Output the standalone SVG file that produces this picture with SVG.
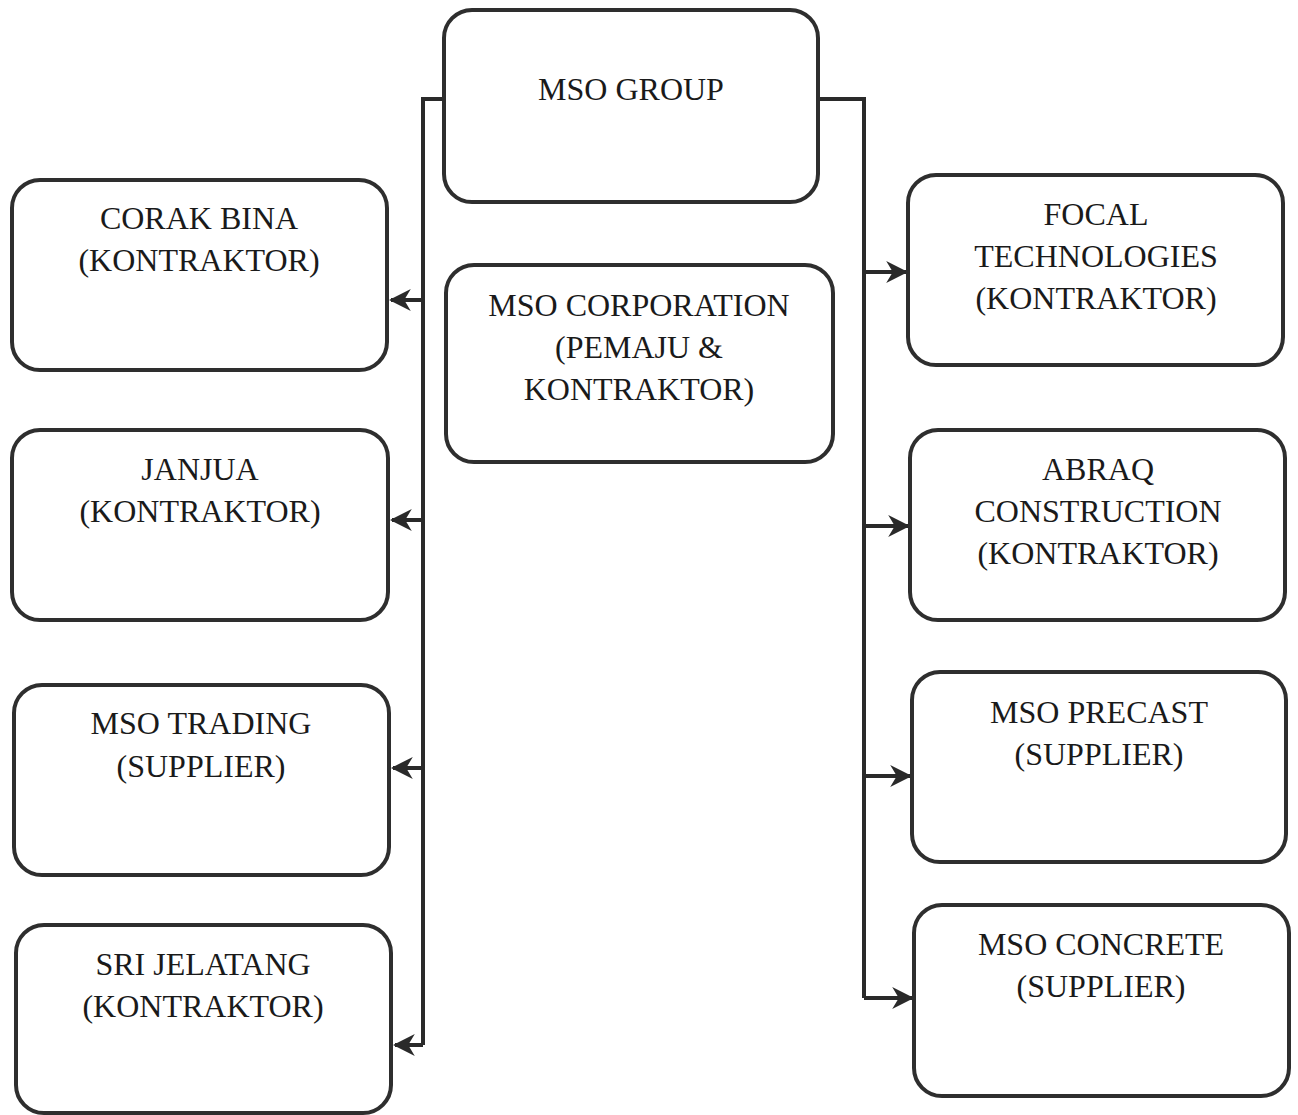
<svg xmlns="http://www.w3.org/2000/svg" width="1298" height="1115" viewBox="0 0 1298 1115">
<style>
.box{fill:#fff;stroke:#2e2e2e;stroke-width:4}
.t{font-family:"Liberation Serif","Times New Roman",serif;font-size:32px;fill:#1a1a1a;text-anchor:middle}
.c{fill:none;stroke:#2a2a2a;stroke-width:4}
</style>
<defs>
<marker id="ah" viewBox="0 0 10 10" refX="9" refY="5" markerWidth="5.5" markerHeight="5.5" orient="auto" markerUnits="strokeWidth">
<path d="M0,0 L10,5 L0,10 L3,5 z" fill="#2a2a2a"/>
</marker>
</defs>
<rect width="1298" height="1115" fill="#fff"/>
<g id="connectors">
<path class="c" d="M444,99 H423 V1045"/>
<path class="c" d="M423,300 H391" marker-end="url(#ah)"/>
<path class="c" d="M423,520 H392" marker-end="url(#ah)"/>
<path class="c" d="M423,768 H393" marker-end="url(#ah)"/>
<path class="c" d="M423,1045 H395" marker-end="url(#ah)"/>
<path class="c" d="M818,99 H864 V998"/>
<path class="c" d="M864,272 H906" marker-end="url(#ah)"/>
<path class="c" d="M864,526 H908" marker-end="url(#ah)"/>
<path class="c" d="M864,776 H910" marker-end="url(#ah)"/>
<path class="c" d="M864,998 H912" marker-end="url(#ah)"/>
</g>
<g id="mso-group">
<rect class="box" x="444" y="10" width="374" height="192" rx="28"/>
<text class="t" x="631" y="100">MSO GROUP</text>
</g>
<g id="mso-corporation">
<rect class="box" x="446" y="265" width="387" height="197" rx="28"/>
<text class="t" x="639" y="316">MSO CORPORATION</text>
<text class="t" x="639" y="358">(PEMAJU &amp;</text>
<text class="t" x="639" y="400">KONTRAKTOR)</text>
</g>
<g id="corak-bina">
<rect class="box" x="12" y="180" width="375" height="190" rx="28"/>
<text class="t" x="199" y="229">CORAK BINA</text>
<text class="t" x="199" y="271">(KONTRAKTOR)</text>
</g>
<g id="janjua">
<rect class="box" x="12" y="430" width="376" height="190" rx="28"/>
<text class="t" x="200" y="480">JANJUA</text>
<text class="t" x="200" y="522">(KONTRAKTOR)</text>
</g>
<g id="mso-trading">
<rect class="box" x="14" y="685" width="375" height="190" rx="28"/>
<text class="t" x="201" y="734">MSO TRADING</text>
<text class="t" x="201" y="777">(SUPPLIER)</text>
</g>
<g id="sri-jelatang">
<rect class="box" x="16" y="925" width="375" height="188" rx="28"/>
<text class="t" x="203" y="975">SRI JELATANG</text>
<text class="t" x="203" y="1017">(KONTRAKTOR)</text>
</g>
<g id="focal">
<rect class="box" x="908" y="175" width="375" height="190" rx="28"/>
<text class="t" x="1096" y="225">FOCAL</text>
<text class="t" x="1096" y="267">TECHNOLOGIES</text>
<text class="t" x="1096" y="309">(KONTRAKTOR)</text>
</g>
<g id="abraq">
<rect class="box" x="910" y="430" width="375" height="190" rx="28"/>
<text class="t" x="1098" y="480">ABRAQ</text>
<text class="t" x="1098" y="522">CONSTRUCTION</text>
<text class="t" x="1098" y="564">(KONTRAKTOR)</text>
</g>
<g id="mso-precast">
<rect class="box" x="912" y="672" width="374" height="190" rx="28"/>
<text class="t" x="1099" y="723">MSO PRECAST</text>
<text class="t" x="1099" y="765">(SUPPLIER)</text>
</g>
<g id="mso-concrete">
<rect class="box" x="914" y="905" width="375" height="191" rx="28"/>
<text class="t" x="1101" y="955">MSO CONCRETE</text>
<text class="t" x="1101" y="997">(SUPPLIER)</text>
</g>
</svg>
